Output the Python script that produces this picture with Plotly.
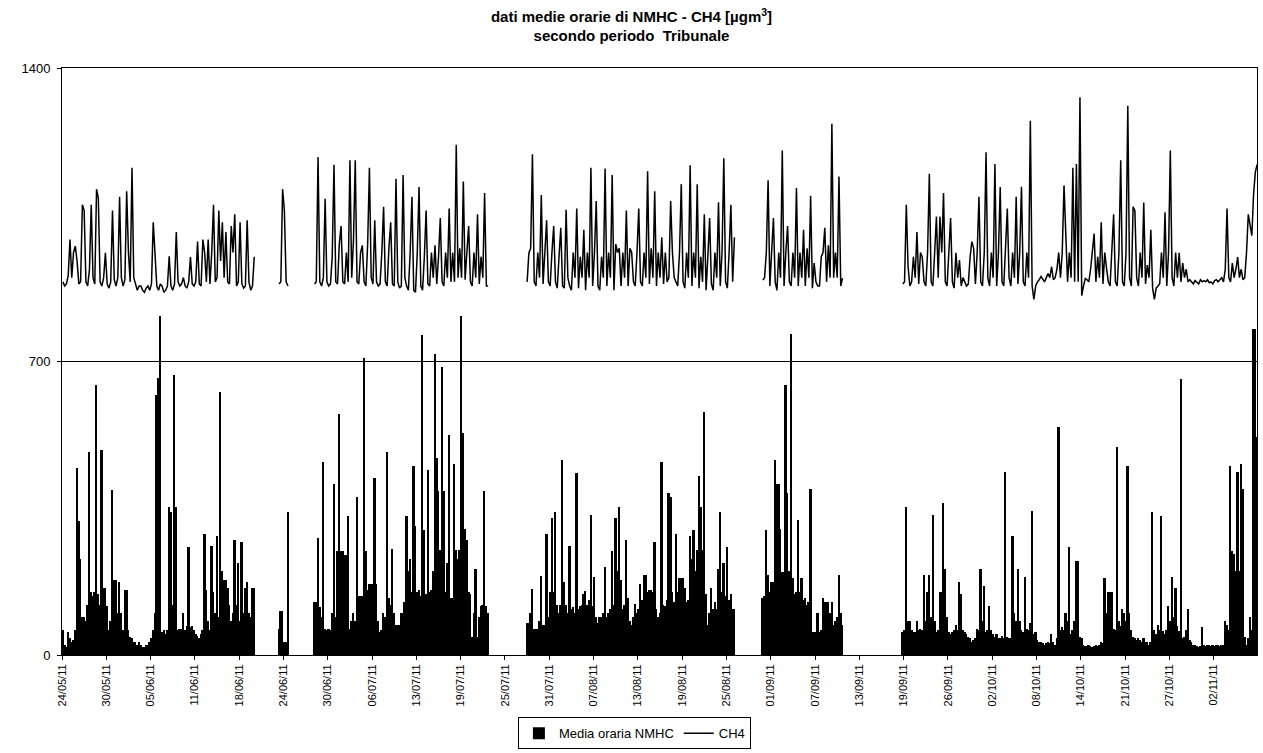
import pandas as pd
import plotly.graph_objects as go

# Hourly-average NMHC and CH4 at the Tribunale station, summarised in
# 6-hour slots (4 values per day). Each block covers one continuous run of
# valid data; gaps between blocks are periods with no measurements.

SLOT_HOURS = 6

seg1_start = "2011-05-24 00:00"
nmhc_seg1 = [
    60, 25, 20, 55,  40, 30, 35, 60,  446, 320, 230, 90,  90, 80, 120, 483,
    150, 140, 150, 643,  146, 120, 490, 160,  160, 118, 60, 80,  393, 178, 178, 100,
    174, 100, 60, 155,  155, 60, 44, 40,  30, 30, 25, 30,  25, 20, 20, 25,
    25, 30, 40, 60,  100, 621, 660, 809,  54, 60, 50, 60,  354, 340, 120, 668,
    354, 60, 63, 63,  100, 60, 70, 257,  67, 70, 60, 50,  45, 40, 50, 60,
    289, 155, 80, 60,  261, 150, 100, 284,  90, 628, 201, 180,  178, 160, 120, 80,
    100, 275, 120, 220,  80, 270, 100, 160,  174, 100, 90, 160,  160,
]
ch4_seg1 = [
    890, 880, 885, 905,  991, 900, 960, 975,  940, 885, 890, 1074,  1060, 890, 880, 920,
    1074, 900, 885, 1111,  1090, 890, 880, 900,  959, 885, 875, 890,  1060, 895, 880, 900,
    1093, 900, 880, 895,  1106, 960, 890, 1162,  900, 885, 870, 880,  880, 870, 865, 875,
    880, 870, 885, 1032,  950, 880, 870, 885,  880, 865, 870, 880,  951, 880, 870, 885,
    1009, 890, 880, 885,  900, 880, 875, 890,  949, 885, 880, 890,  986, 885, 880, 991,
    960, 890, 991, 885,  960, 1074, 890, 900,  1060, 940, 1032, 900,  1009, 890, 885, 1023,
    960, 1051, 880, 890,  1032, 885, 875, 880,  1037, 890, 870, 880,  950,
]

seg2_start = "2011-06-23 12:00"
nmhc_seg2 = [63, 104, 104, 30, 30, 342]
ch4_seg2 = [885, 890, 1111, 1060, 890, 880]

seg3_start = "2011-06-28 12:00"
nmhc_seg3 = [
    127, 127,
    280, 114, 90, 460,  63, 60, 63, 60,  100, 409, 90, 247,  575, 247, 247, 238,
    238, 331, 63, 80,  100, 80, 377, 141,  141, 141, 709, 247,  155, 169, 169, 169,
    421, 169, 80, 54,  60, 100, 90, 483,  137, 120, 252, 100,  72, 72, 72, 100,
    100, 127, 331, 200,  229, 150, 451, 307,  150, 155, 140, 763,  298, 146, 441, 150,
    155, 200, 718, 469,  391, 250, 686, 391,  150, 220, 525, 137,  137, 455, 250, 229,
    250, 809, 529, 300,  275, 150, 146, 44,  100, 206, 44, 90,  118, 120, 391, 118,
    100,
]
ch4_seg3 = [
    885, 890,
    1188, 890, 880, 900,  1088, 890, 880, 885,  950, 1169, 890, 885,  980, 1023, 890, 885,
    960, 890, 1180, 900,  990, 1180, 890, 885,  960, 977, 890, 880,  980, 1162, 900, 885,
    1037, 890, 880, 885,  960, 1069, 890, 880,  970, 1032, 885, 880,  1136, 890, 875, 880,
    1145, 900, 880, 870,  960, 1093, 870, 865,  960, 1116, 880, 870,  950, 1060, 885, 880,
    960, 900, 977, 885,  950, 1042, 890, 880,  960, 900, 1065, 890,  960, 890, 1217, 900,
    970, 900, 1129, 895,  960, 1023, 890, 880,  960, 900, 1051, 885,  950, 900, 1102, 880,
    880,
]

seg4_start = "2011-07-28 12:00"
nmhc_seg4 = [
    77, 77,
    100, 157, 63, 63,  63, 80, 189, 72,  72, 289, 90, 150,  326, 150, 340, 120,
    100, 120, 466, 174,  120, 100, 261, 110,  114, 100, 434, 110,  118, 120, 146, 152,
    120, 130, 335, 118,  187, 90, 77, 90,  90, 100, 210, 90,  100, 110, 247, 120,
    326, 200, 354, 180,  109, 120, 275, 137,  80, 72, 90, 122,  100, 110, 169, 130,
    192, 192, 150, 155,  155, 150, 270, 110,  90, 100, 460, 120,  118, 130, 386, 377,
    150, 127, 289, 150,  183, 183, 183, 160,  127, 130, 284, 229,  298, 200, 250, 428,
    354, 250, 580, 146,  72, 100, 160, 110,  127, 110, 206, 340,  150, 220, 140, 257,
    130, 146, 109, 109,
]
ch4_seg4 = [
    890, 959,
    970, 1194, 890, 880,  960, 900, 1097, 885,  960, 1037, 890, 880,  960, 1023, 890, 875,
    950, 1019, 880, 875,  1062, 900, 880, 870,  960, 900, 1065, 875,  950, 900, 1014, 870,
    960, 900, 1162, 880,  960, 1083, 880, 870,  950, 900, 1160, 880,  960, 900, 1145, 870,
    980, 960, 970, 880,  960, 900, 1060, 880,  970, 960, 890, 880,  960, 1065, 890, 880,
    960, 900, 1154, 885,  970, 900, 1106, 880,  960, 900, 996, 885,  960, 890, 900, 1083,
    960, 900, 890, 880,  960, 1123, 890, 875,  960, 900, 1168, 880,  960, 900, 1123, 875,
    950, 890, 1051, 870,  950, 1042, 885, 870,  960, 900, 1080, 880,  960, 1185, 890, 875,
    960, 1074, 890, 996,
]

seg5_start = "2011-08-30 18:00"
nmhc_seg5 = [
    137,
    140, 298, 192, 150,  174, 174, 465, 409,  409, 300, 197, 197,  645, 386, 200, 765,
    183, 146, 150, 321,  150, 183, 130, 137,  120, 127, 395, 54,  54, 54, 100, 54,
    60, 137, 127, 127,  127, 100, 127, 72,  80, 90, 192, 100,
    72,
]
ch4_seg5 = [
    894,
    900, 960, 1132, 880,  960, 1042, 890, 870,  960, 900, 1203, 880,  960, 1023, 890, 880,
    960, 900, 1114, 880,  960, 900, 1014, 880,  970, 900, 1095, 875,  935, 890, 880, 880,
    950, 960, 1019, 890,  977, 900, 1267, 900,  960, 900, 1141, 880,
    899,
]

seg6_start = "2011-09-19 12:00"
nmhc_seg6 = [
    54, 60,
    354, 81, 81, 60,  54, 54, 81, 60,  63, 60, 192, 80,  150, 192, 90, 335,
    80, 54, 60, 150,  150, 363, 206, 90,  54, 50, 54, 60,  72, 60, 174, 146,
    60, 54, 50, 44,  40, 30, 35, 40,  63, 60, 206, 80,  164, 54, 60, 118,
    60, 50, 44, 50,  40, 40, 45, 40,  437, 44, 40, 40,  284, 100, 80, 206,
    81, 60, 54, 187,  63, 60, 77, 344,  50, 54, 35, 30,  30, 28, 25, 28,
    30, 28, 49, 30,  25, 40, 543, 60,  67, 60, 100, 80,  257, 49, 60, 80,
    224, 224, 44, 40,  25, 22, 21, 25,  22, 20, 21, 25,  21, 25, 30, 28,
    183, 100, 150, 150,  150, 63, 60, 497,  80, 70, 109, 100,  80, 451, 100, 60,
    44, 40, 35, 40,  35, 30, 40, 30,  30, 25, 30, 340,  60, 50, 72, 60,
    331, 58, 50, 60,  118, 80, 187, 90,  160, 70, 58, 658,  40, 44, 60, 109,
    35, 30, 25, 25,  22, 20, 22, 67,  25, 22, 25, 25,  22, 25, 22, 25,
    25, 22, 25, 25,  81, 72, 60, 451,  247, 240, 200, 437,  200, 455, 395, 44,
    25, 40, 90, 60,
    778, 778, 520,
]
ch4_seg6 = [
    885, 890,
    1074, 926, 880, 890,  950, 900, 1009, 885,  960, 949, 890, 880,  960, 1148, 890, 880,
    960, 1046, 900, 1046,  960, 1102, 890, 880,  960, 1042, 890, 875,  959, 900, 942, 880,
    900, 890, 880, 885,  950, 986, 970, 885,  960, 1093, 890, 880,  960, 1199, 900, 880,
    960, 900, 1171, 880,  960, 1116, 890, 880,  960, 1065, 900, 880,  960, 900, 1093, 885,
    960, 1117, 890, 880,  960, 900, 1274, 880,  848, 880, 890, 895,  903, 895, 890, 900,
    910, 900, 926, 895,  900, 920, 960, 900,  960, 1120, 1000, 890,  960, 900, 1162, 890,
    1171, 890, 1330, 857,  880, 898, 895, 890,  920, 960, 1005, 890,  950, 900, 1032, 885,
    960, 922, 890, 880,  960, 1051, 890, 880,  960, 1180, 890, 880,  960, 1310, 900, 880,
    1069, 1060, 900, 880,  960, 900, 1079, 885,  930, 900, 1014, 875,  848, 875, 880, 885,
    960, 900, 1056, 880,  960, 1203, 900, 880,  960, 900, 959, 890,  935, 900, 920, 890,
    895, 890, 885, 893,  890, 885, 895, 890,  893, 890, 895, 888,  890, 885, 893, 895,
    890, 895, 900, 890,  920, 1065, 900, 890,  935, 900, 920, 949,  900, 920, 895, 900,
    960, 1051, 1020, 1000,
    1100, 1152, 1170,
]

segment_starts = [seg1_start, seg2_start, seg3_start, seg4_start, seg5_start, seg6_start]
nmhc_segments = [nmhc_seg1, nmhc_seg2, nmhc_seg3, nmhc_seg4, nmhc_seg5, nmhc_seg6]
ch4_segments = [ch4_seg1, ch4_seg2, ch4_seg3, ch4_seg4, ch4_seg5, ch4_seg6]

tick_labels = [
    "24/05/11", "30/05/11", "05/06/11", "11/06/11", "18/06/11", "24/06/11",
    "30/06/11", "06/07/11", "13/07/11", "19/07/11", "25/07/11", "31/07/11",
    "07/08/11", "13/08/11", "19/08/11", "25/08/11", "01/09/11", "07/09/11",
    "13/09/11", "19/09/11", "26/09/11", "02/10/11", "08/10/11", "14/10/11",
    "21/10/11", "27/10/11", "02/11/11",
]
y_ticks = [0, 700, 1400]

axis_start = pd.Timestamp("2011-05-24 00:00")
axis_end = pd.Timestamp("2011-11-08 14:30")
# category labels fall every 150 hourly records
tick_positions = pd.date_range(axis_start, periods=len(tick_labels), freq="150h")


def slot_times(start, n):
    t0 = pd.Timestamp(start) + pd.Timedelta(hours=SLOT_HOURS / 2)
    return [t0 + pd.Timedelta(hours=SLOT_HOURS * i) for i in range(n)]


bar_x, bar_y = [], []
line_x, line_y = [], []
for start, nm, ch in zip(segment_starts, nmhc_segments, ch4_segments):
    bar_x += slot_times(start, len(nm))
    bar_y += nm
    if line_x:
        line_x.append(line_x[-1] + pd.Timedelta(hours=1))
        line_y.append(None)
    line_x += slot_times(start, len(ch))
    line_y += ch

FONT = "Liberation Sans, Arial, Helvetica, sans-serif"

fig = go.Figure()
fig.add_trace(go.Bar(
    x=bar_x, y=bar_y, name="Media oraria NMHC",
    width=SLOT_HOURS * 3600 * 1000,
    marker=dict(color="black", line=dict(width=0)),
))
fig.add_trace(go.Scatter(
    x=line_x, y=line_y, name="CH4", mode="lines",
    line=dict(color="black", width=1.5), connectgaps=False,
))

fig.update_layout(
    width=1263, height=753,
    margin=dict(l=62, r=6, t=68, b=98, autoexpand=False),
    paper_bgcolor="white", plot_bgcolor="white",
    font=dict(family=FONT, color="black", size=12),
    bargap=0,
    title=dict(
        text="<b>dati medie orarie di NMHC - CH4 [µgm<sup>3</sup>]</b><br>"
             "<b>secondo periodo\u00a0 Tribunale</b>",
        x=0.5, xref="container", xanchor="center",
        y=0.971, yref="container", yanchor="top",
        font=dict(family=FONT, size=15, color="black"),
    ),
    showlegend=True,
    legend=dict(
        orientation="h", x=0.479, xanchor="center", y=-0.106, yanchor="top",
        bordercolor="black", borderwidth=1, bgcolor="white",
        font=dict(family=FONT, size=13, color="black"),
        itemwidth=30, tracegroupgap=0,
    ),
    xaxis=dict(
        type="date", range=[axis_start, axis_end],
        tickmode="array", tickvals=list(tick_positions), ticktext=tick_labels,
        tickangle=-90, tickfont=dict(family=FONT, size=11, color="black"),
        ticks="outside", ticklen=4, tickcolor="black",
        showline=True, linecolor="black", linewidth=1, mirror=True,
        showgrid=False, zeroline=False,
    ),
    yaxis=dict(
        range=[0, 1400], tickmode="array", tickvals=y_ticks,
        tickfont=dict(family=FONT, size=13, color="black"),
        ticks="outside", ticklen=4, tickcolor="black", ticklabelstandoff=4,
        showline=True, linecolor="black", linewidth=1, mirror=True,
        showgrid=True, gridcolor="black", gridwidth=1, zeroline=False,
    ),
)

fig.write_html("out.html")
